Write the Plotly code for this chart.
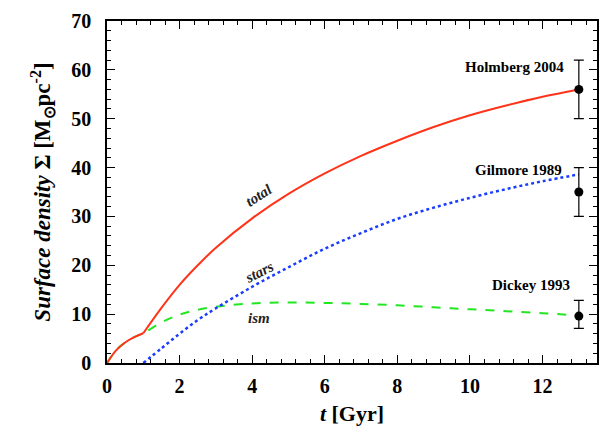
import plotly.graph_objects as go

t_early = [0, 0.25, 0.5, 0.75, 1.0]
ism_early = [0, 2.6, 4.2, 5.3, 6.1]

t_late = [1.0, 1.5, 2, 2.5, 3, 4, 5, 6, 7, 8, 9, 10, 11, 12, 13]
total_late = [6.1, 11.3, 16.0, 20.0, 23.6, 29.6, 34.6, 38.8, 42.4, 45.5, 48.3, 50.7, 52.7, 54.5, 56.0]
stars_late = [0, 3.0, 6.0, 8.8, 11.2, 15.6, 19.6, 23.4, 26.6, 29.5, 31.8, 33.8, 35.6, 37.2, 38.6]
ism_late = [6.1, 8.3, 9.9, 10.9, 11.5, 12.2, 12.4, 12.3, 12.1, 11.8, 11.4, 11.0, 10.6, 10.2, 9.7]

obs_t = [13, 13, 13]
obs_val = [56, 35, 9.6]
obs_plus = [6, 5, 3.2]
obs_minus = [6, 5, 2.5]
obs_names = ["Holmberg 2004", "Gilmore 1989", "Dickey 1993"]

FONT = "Liberation Serif"

t_ism = t_early + t_late[1:]
ism = ism_early + ism_late[1:]

fig = go.Figure()
fig.add_trace(go.Scatter(x=t_ism, y=ism, mode="lines", line=dict(color="#22e622", width=2, dash="dash"), line_shape="spline"))
fig.add_trace(go.Scatter(x=t_late, y=stars_late, mode="lines", line=dict(color="#1a3cff", width=2.5, dash="dot"), line_shape="spline"))
fig.add_trace(go.Scatter(x=t_early, y=ism_early, mode="lines", line=dict(color="#ff3319", width=2), line_shape="spline"))
fig.add_trace(go.Scatter(x=t_late, y=total_late, mode="lines", line=dict(color="#ff3319", width=2), line_shape="spline"))
fig.add_trace(go.Scatter(x=obs_t, y=obs_val, mode="markers",
                         marker=dict(color="black", size=9),
                         error_y=dict(type="data", symmetric=False, array=obs_plus, arrayminus=obs_minus,
                                      color="black", thickness=1.2, width=5)))

# curve labels
lab_font = dict(family=FONT, size=15, color="#222222", weight="bold", style="italic")
fig.add_annotation(x=4.2, y=34.3, text="total", showarrow=False, textangle=-33, font=lab_font)
fig.add_annotation(x=4.2, y=18.6, text="stars", showarrow=False, textangle=-27, font=lab_font)
fig.add_annotation(x=4.2, y=9.3, text="ism", showarrow=False, font=lab_font)

obs_lab_y = [60.5, 39.5, 16.0]
obs_lab_x = [12.65, 12.6, 12.8]
for name, yy, xx in zip(obs_names, obs_lab_y, obs_lab_x):
    fig.add_annotation(x=xx, y=yy, text=name, showarrow=False, xanchor="right",
                       font=dict(family=FONT, size=15, color="black", weight="bold"))

axis_common = dict(showgrid=False, zeroline=False, showline=True, linecolor="black", linewidth=1.5,
                   mirror="ticks", ticks="inside", tickcolor="black", ticklen=8, tickwidth=1.2,
                   tickfont=dict(family=FONT, size=20, color="black", weight="bold"))

fig.update_xaxes(range=[0, 13.5], dtick=2, tick0=0, ticklabelstandoff=4,
                 minor=dict(dtick=0.4, ticks="inside", ticklen=4, tickcolor="black", tickwidth=1),
                 title=dict(text="<i>t</i> [Gyr]", font=dict(family=FONT, size=22, color="black", weight="bold"), standoff=10),
                 **axis_common)
fig.update_yaxes(range=[0, 70], dtick=10, tick0=0, ticklabelstandoff=10,
                 minor=dict(dtick=2, ticks="inside", ticklen=4, tickcolor="black", tickwidth=1),
                 title=dict(text="<i>Surface density</i> Σ [M<sub>⊙</sub>pc<sup>-2</sup>]",
                            font=dict(family=FONT, size=23, color="black", weight="bold"), standoff=14),
                 **axis_common)

fig.update_layout(width=613, height=437, margin=dict(l=107, r=16, t=10, b=74),
                  plot_bgcolor="white", paper_bgcolor="white", showlegend=False)

fig.write_html("out.html")
